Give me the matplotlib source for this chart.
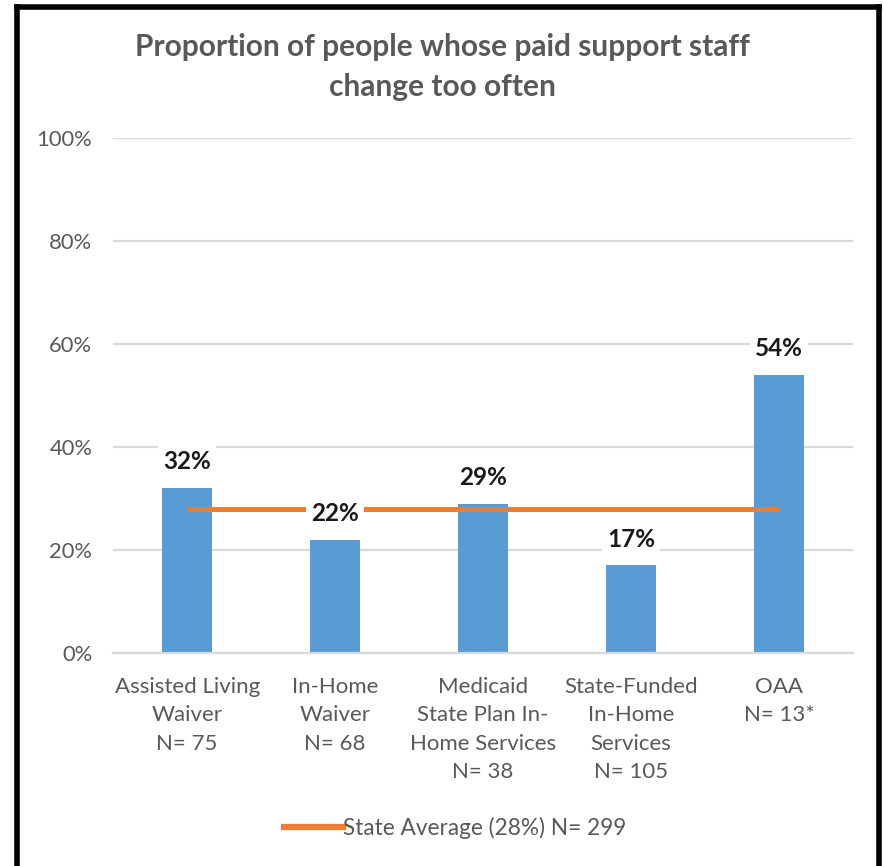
import matplotlib
matplotlib.use("Agg")
import matplotlib.pyplot as plt
from matplotlib.lines import Line2D
from matplotlib.ticker import FuncFormatter

plt.rcParams["font.family"] = ["Lato", "DejaVu Sans"]

# 数据
programs = ["Assisted Living\nWaiver\nN= 75",
            "In-Home\nWaiver\nN= 68",
            "Medicaid\nState Plan In-\nHome Services\nN= 38",
            "State-Funded\nIn-Home\nServices\nN= 105",
            "OAA\nN= 13*"]
share = [0.32, 0.22, 0.29, 0.17, 0.54]
state_avg = 0.28
avg_label = "State Average (28%) N= 299"
title = "Proportion of people whose paid support staff\nchange too often"
yticks = [0, 0.2, 0.4, 0.6, 0.8, 1.0]

BAR = "#5B9BD5"
AVG = "#ED7D31"
GRID = "#D9D9D9"
TXT = "#595959"

fig = plt.figure(figsize=(8.84, 8.66), dpi=100)
ax = fig.add_axes([0.128, 0.246, 0.837, 0.5947])

x = list(range(len(programs)))
ax.bar(x, share, width=0.34, color=BAR, zorder=2)
ax.plot([x[0], x[-1]], [state_avg, state_avg], color=AVG, lw=3.6,
        solid_capstyle="butt", zorder=3)

for xi, v in zip(x, share):
    ax.annotate(f"{v*100:.0f}%", (xi, v), xytext=(0, 19), textcoords="offset points",
                ha="center", va="center", fontsize=17.5, fontweight="bold", color="#1a1a1a",
                bbox=dict(boxstyle="square,pad=0.2", fc="white", ec="none"), zorder=4)

ax.set_xlim(-0.5, len(programs) - 0.5)
ax.set_ylim(0, 1.0)
ax.set_yticks(yticks)
ax.yaxis.set_major_formatter(FuncFormatter(lambda v, _: f"{v*100:.0f}%"))
ax.set_xticks(x)
ax.set_xticklabels(programs, fontsize=16, color=TXT, linespacing=1.53)
ax.tick_params(axis="y", labelsize=15.8, colors=TXT, length=0, pad=15)
ax.tick_params(axis="x", length=0, pad=17)
ax.grid(axis="y", color=GRID, lw=1.6, zorder=0)
ax.set_axisbelow(True)
for s in ["top", "right", "left"]:
    ax.spines[s].set_visible(False)
ax.spines["bottom"].set_color(GRID)
ax.spines["bottom"].set_linewidth(1.6)

fig.text(0.5, 0.9226, title, ha="center", va="center", fontsize=21.5,
         fontweight="bold", color=TXT, linespacing=1.55)

handle = Line2D([], [], color=AVG, lw=4.5)
fig.legend([handle], [avg_label], loc="center", bbox_to_anchor=(0.515, 0.044),
           frameon=False, fontsize=16.3, handlelength=2.6, handletextpad=0.0,
           labelcolor=TXT)

# 外框（左、上、右）
for xs, ys in [([0.0195, 0.0195], [0, 0.992]), ([0.0195, 0.994], [0.992, 0.992]),
               ([0.994, 0.994], [0.992, 0])]:
    fig.add_artist(Line2D(xs, ys, color="black", lw=4, transform=fig.transFigure))

fig.savefig("out.png", dpi=100, facecolor="white")
